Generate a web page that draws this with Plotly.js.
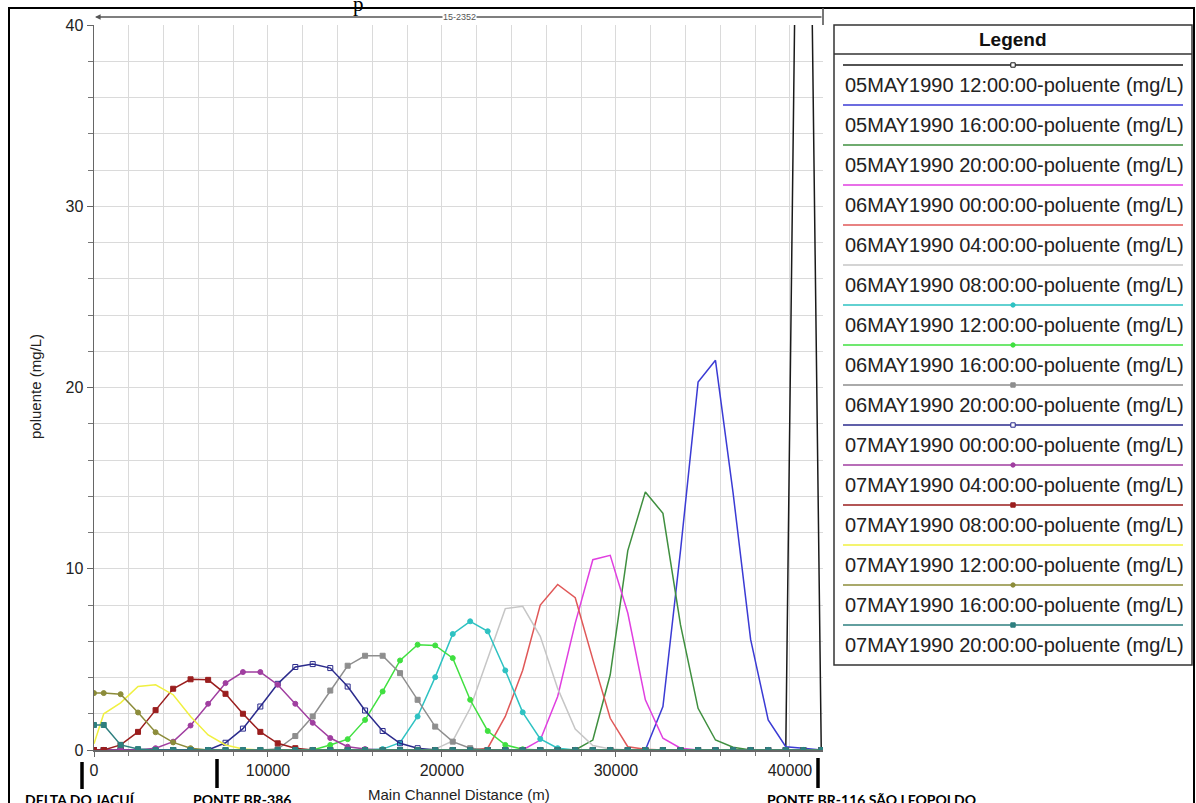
<!DOCTYPE html>
<html>
<head>
<meta charset="utf-8">
<script src="https://cdn.plot.ly/plotly-3.0.1.min.js"></script>
<style>
  html, body { margin: 0; padding: 0; background: #ffffff; }
  #chart { width: 1196px; height: 803px; }
</style>
</head>
<body>
<div id="chart"></div>
<script>
// Main channel stations (m), from the delta (0) up to São Leopoldo
const distance = [0, 560, 1530, 2530, 3540, 4550, 5550, 6560, 7560, 8560,
  9560, 10560, 11570, 12570, 13580, 14580, 15580, 16590, 17590, 18600,
  19610, 20620, 21620, 22630, 23640, 24640, 25650, 26650, 27660, 28670,
  29670, 30680, 31690, 32700, 33710, 34720, 35720, 36730, 37740, 38750,
  39760, 40770, 41800];

// Pollutant concentration (mg/L) along the channel for each profile time
const p05may12 = [0,0,0,0,0,0,0,0,0,0, 0,0,0,0,0,0,0,0,0,0, 0,0,0,0,0,0,0,0,0,0, 0,0,0,0,0,0,0,0,0,0, 0,80,0];
const p05may16 = [0,0,0,0,0,0,0,0,0,0, 0,0,0,0,0,0,0,0,0,0, 0,0,0,0,0,0,0,0,0,0, 0,0,0,2.4,11.0,20.3,21.5,14.2,6.1,1.66, 0.18,0.1,0];
const p05may20 = [0,0,0,0,0,0,0,0,0,0, 0,0,0,0,0,0,0,0,0,0, 0,0,0,0,0,0,0,0,0,0.55, 4.15,11.0,14.24,13.06,6.9,2.3,0.55,0.15,0,0, 0,0,0];
const p06may00 = [0,0,0,0,0,0,0,0,0,0, 0,0,0,0,0,0,0,0,0,0, 0,0,0,0,0,0,0.55,2.95,7.0,10.5, 10.74,7.56,2.77,0.65,0.1,0,0,0,0,0, 0,0,0];
const p06may04 = [0,0,0,0,0,0,0,0,0,0, 0,0,0,0,0,0,0,0,0,0, 0,0,0,0.1,1.85,4.4,8.0,9.13,8.4,5.0, 1.75,0.18,0.04,0,0,0,0,0,0,0, 0,0,0];
const p06may08 = [0,0,0,0,0,0,0,0,0,0, 0,0,0,0,0,0,0,0,0,0, 0.05,0.5,2.3,5.0,7.8,7.93,6.27,3.4,1.15,0.25, 0.05,0,0,0,0,0,0,0,0,0, 0,0,0];
const p06may12 = [0,0,0,0,0,0,0,0,0,0, 0,0,0,0,0,0,0,0.05,0.4,1.85, 4.02,6.4,7.1,6.55,4.39,2.08,0.61,0.1,0,0, 0,0,0,0,0,0,0,0,0,0, 0,0,0];
const p06may16 = [0,0,0,0,0,0,0,0,0,0, 0,0,0,0,0.28,0.6,1.66,3.23,4.94,5.81, 5.77,5.07,2.77,1.05,0.28,0.04,0,0,0,0, 0,0,0,0,0,0,0,0,0,0, 0,0,0];
const p06may20 = [0,0,0,0,0,0,0,0,0,0, 0,0.05,0.77,1.85,3.28,4.65,5.2,5.2,4.24,2.77, 1.29,0.46,0.1,0,0,0,0,0,0,0, 0,0,0,0,0,0,0,0,0,0, 0,0,0];
const p07may00 = [0,0,0,0,0,0,0,0,0.4,1.18, 2.4,3.65,4.58,4.74,4.52,3.5,2.18,1.05,0.37,0.1, 0,0,0,0,0,0,0,0,0,0, 0,0,0,0,0,0,0,0,0,0, 0,0,0];
const p07may04 = [0,0,0,0,0.1,0.46,1.35,2.55,3.69,4.3, 4.3,3.6,2.55,1.5,0.66,0.18,0.05,0,0,0, 0,0,0,0,0,0,0,0,0,0, 0,0,0,0,0,0,0,0,0,0, 0,0,0];
const p07may08 = [0,0,0.28,1.0,2.2,3.38,3.9,3.87,3.1,2.0, 1.0,0.37,0.1,0,0,0,0,0,0,0, 0,0,0,0,0,0,0,0,0,0, 0,0,0,0,0,0,0,0,0,0, 0,0,0];
const p07may12 = [0.35,2.0,2.6,3.5,3.6,3.05,1.85,0.83,0.28,0.05, 0,0,0,0,0,0,0,0,0,0, 0,0,0,0,0,0,0,0,0,0, 0,0,0,0,0,0,0,0,0,0, 0,0,0];
const p07may16 = [3.14,3.14,3.08,2.07,0.98,0.42,0.1,0,0,0, 0,0,0,0,0,0,0,0,0,0, 0,0,0,0,0,0,0,0,0,0, 0,0,0,0,0,0,0,0,0,0, 0,0,0];
const p07may20 = [1.38,1.38,0.28,0.05,0,0,0,0,0,0, 0,0,0,0,0,0,0,0,0,0, 0,0,0,0,0,0,0,0,0,0, 0,0,0,0,0,0,0,0,0,0, 0,0,0];

const profileNames = [
  '05MAY1990 12:00:00-poluente (mg/L)',
  '05MAY1990 16:00:00-poluente (mg/L)',
  '05MAY1990 20:00:00-poluente (mg/L)',
  '06MAY1990 00:00:00-poluente (mg/L)',
  '06MAY1990 04:00:00-poluente (mg/L)',
  '06MAY1990 08:00:00-poluente (mg/L)',
  '06MAY1990 12:00:00-poluente (mg/L)',
  '06MAY1990 16:00:00-poluente (mg/L)',
  '06MAY1990 20:00:00-poluente (mg/L)',
  '07MAY1990 00:00:00-poluente (mg/L)',
  '07MAY1990 04:00:00-poluente (mg/L)',
  '07MAY1990 08:00:00-poluente (mg/L)',
  '07MAY1990 12:00:00-poluente (mg/L)',
  '07MAY1990 16:00:00-poluente (mg/L)',
  '07MAY1990 20:00:00-poluente (mg/L)'
];
const profileValues = [p05may12, p05may16, p05may20, p06may00, p06may04, p06may08,
  p06may12, p06may16, p06may20, p07may00, p07may04, p07may08, p07may12, p07may16, p07may20];

const lineColors = ['#1a1a1a', '#3b3bd4', '#3f8f3f', '#e03fe0', '#e05858', '#c6c6c6',
  '#2ec2c2', '#40e040', '#8e8e8e', '#2b2b8c', '#a03ea0', '#9a1e1e', '#f0f040', '#8c8c3a', '#2e7f7f'];
// marker symbol per profile (null = plain line)
const markerSymbols = ['square-open', null, null, null, null, null,
  'circle', 'circle', 'square', 'square-open', 'circle', 'square', null, 'circle', 'square'];

const riverMarks = ['DELTA DO JACUÍ', 'PONTE BR-386', 'PONTE BR-116 SÃO LEOPOLDO'];
const reachLabel = '15-2352';

// plot area in pixels
const PL = 94, PR = 823, PT = 25, PB = 750;
const PX = px => (px - PL) / (PR - PL);
const PY = py => (PB - py) / (PB - PT);

const traces = profileValues.map((vals, i) => {
  const t = {
    x: distance, y: vals, type: 'scatter', name: profileNames[i],
    mode: markerSymbols[i] ? 'lines+markers' : 'lines',
    line: {color: lineColors[i], width: 1.5},
    cliponaxis: true, showlegend: false
  };
  if (markerSymbols[i]) {
    t.marker = {symbol: markerSymbols[i], size: 5, color: lineColors[i],
      line: {color: lineColors[i], width: 1}};
  }
  return t;
});

const shapes = [];
const annotations = [];
const ink = '#222222';

// text placed at a pixel position of the page
function label(px, py, text, font, xanchor, yanchor, extra) {
  annotations.push(Object.assign({xref: 'paper', yref: 'paper', x: PX(px), y: PY(py), text: text,
    showarrow: false, xanchor: xanchor, yanchor: yanchor, font: font}, extra || {}));
}

// outer frame
shapes.push({type: 'rect', xref: 'paper', yref: 'paper', x0: PX(9), x1: PX(1194), y0: PY(8), y1: PY(830),
  line: {color: '#000', width: 2}, fillcolor: 'rgba(0,0,0,0)', layer: 'above'});

// reach extent bar along the top
annotations.push({xref: 'paper', yref: 'paper', x: PX(95), y: PY(17), text: '', showarrow: true,
  ax: 728, ay: 0, arrowhead: 2, arrowsize: 0.7, arrowwidth: 1.6, arrowcolor: '#555'});
shapes.push({type: 'line', xref: 'paper', yref: 'paper', x0: PX(823), x1: PX(823), y0: PY(8), y1: PY(25),
  line: {color: '#555', width: 1.6}});
label(459, 17, reachLabel, {family: 'Liberation Sans, Arial', size: 9, color: '#555'}, 'center', 'middle',
  {bgcolor: '#ffffff', borderpad: 0});
label(358, 4, 'p', {family: 'Liberation Serif, serif', size: 21, color: '#000'}, 'center', 'middle');

// axis titles
label(459, 795, 'Main Channel Distance (m)', {family: 'Liberation Sans, Arial', size: 15, color: ink}, 'center', 'middle');
label(35, 387, 'poluente (mg/L)', {family: 'Liberation Sans, Arial', size: 15, color: ink}, 'center', 'middle',
  {textangle: -90});

// river landmarks under the axis
const markBars = [[82, 762, 789], [217, 759, 788], [818, 758, 788]];
const markText = [80, 242, 871];
riverMarks.forEach((name, i) => {
  const b = markBars[i];
  shapes.push({type: 'line', xref: 'paper', yref: 'paper', x0: PX(b[0]), x1: PX(b[0]), y0: PY(b[1]), y1: PY(b[2]),
    line: {color: '#000', width: 3.5}});
  label(markText[i], 799, '<b>' + name + '</b>', {family: 'Lato, Open Sans, sans-serif', size: 14, color: '#000'},
    'center', 'middle');
});

// legend panel
const LX0 = 834, LX1 = 1192, LY0 = 25, LY1 = 665;
shapes.push({type: 'rect', xref: 'paper', yref: 'paper', x0: PX(LX0), x1: PX(LX1), y0: PY(LY0), y1: PY(LY1),
  line: {color: '#333', width: 1.5}, fillcolor: '#fff'});
shapes.push({type: 'line', xref: 'paper', yref: 'paper', x0: PX(LX0), x1: PX(LX1), y0: PY(54), y1: PY(54),
  line: {color: '#333', width: 1.5}});
label(1013, 39, '<b>Legend</b>', {family: 'Liberation Sans, Arial', size: 19, color: '#111'}, 'center', 'middle');
profileNames.forEach((name, i) => {
  const ly = 65 + 40 * i;
  shapes.push({type: 'line', xref: 'paper', yref: 'paper', x0: PX(843), x1: PX(1183), y0: PY(ly), y1: PY(ly),
    line: {color: lineColors[i], width: 1.3}});
  const sym = markerSymbols[i];
  if (sym) {
    const r = 2.2;
    shapes.push({type: sym.startsWith('circle') ? 'circle' : 'rect', xref: 'paper', yref: 'paper',
      x0: PX(1013 - r), x1: PX(1013 + r), y0: PY(ly - r), y1: PY(ly + r),
      line: {color: lineColors[i], width: 1},
      fillcolor: sym.endsWith('open') ? '#fff' : lineColors[i]});
  }
  label(843, ly + 20, name, {family: 'Liberation Sans, Arial', size: 20, color: '#222'}, 'left', 'middle');
});

const gridColor = '#dadada';
const layout = {
  width: 1196, height: 803,
  margin: {l: PL, r: 1196 - PR, t: PT, b: 803 - PB, pad: 0},
  paper_bgcolor: '#fff', plot_bgcolor: '#fff',
  showlegend: false,
  font: {family: 'Liberation Sans, Arial', color: ink},
  xaxis: {
    range: [0, 41900], dtick: 10000, tick0: 0, tickformat: 'd', showgrid: true, gridcolor: gridColor, gridwidth: 1,
    zeroline: false, showline: true, linecolor: '#666', linewidth: 1.5,
    ticks: 'outside', ticklen: 5, tickcolor: '#666', tickfont: {size: 16, color: ink},
    minor: {dtick: 2000, showgrid: true, gridcolor: gridColor, ticks: 'outside', ticklen: 4, tickcolor: '#777'},
    fixedrange: true
  },
  yaxis: {
    range: [0, 40], dtick: 10, tick0: 0, tickformat: 'd', showgrid: true, gridcolor: gridColor, gridwidth: 1,
    zeroline: false, showline: true, linecolor: '#666', linewidth: 1.5,
    ticks: 'outside', ticklen: 6, tickcolor: '#666', tickfont: {size: 16, color: ink},
    minor: {dtick: 2, showgrid: true, gridcolor: gridColor, ticks: 'outside', ticklen: 5, tickcolor: '#777'},
    fixedrange: true
  },
  shapes: shapes,
  annotations: annotations
};

Plotly.newPlot('chart', traces, layout, {displayModeBar: false, staticPlot: true});
</script>
</body>
</html>
